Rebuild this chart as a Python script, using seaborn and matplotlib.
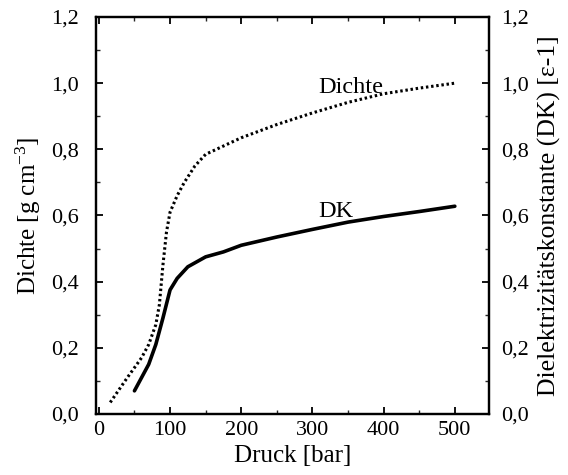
import matplotlib
matplotlib.use("Agg")
import matplotlib.pyplot as plt
import matplotlib.ticker as mticker
import seaborn as sns
import pandas as pd

# Data
druck_dichte = [16, 40, 60, 70, 80, 85, 90, 95, 100, 110, 120, 135, 150, 165, 180, 200, 250, 300, 350, 400, 450, 500]
dichte = [0.035, 0.11, 0.17, 0.21, 0.27, 0.33, 0.45, 0.55, 0.61, 0.66, 0.70, 0.75, 0.785, 0.80, 0.815, 0.835, 0.875, 0.91, 0.942, 0.968, 0.985, 1.0]

druck_dk = [50, 70, 80, 90, 100, 110, 125, 150, 175, 200, 250, 300, 350, 400, 450, 500]
dk = [0.07, 0.15, 0.21, 0.29, 0.375, 0.41, 0.445, 0.475, 0.49, 0.51, 0.535, 0.558, 0.58, 0.597, 0.612, 0.628]

x_ticks = [0, 100, 200, 300, 400, 500]
y_ticks = [0.0, 0.2, 0.4, 0.6, 0.8, 1.0, 1.2]

sns.set_theme(style="ticks")
plt.rcParams['font.family'] = ['Liberation Serif', 'DejaVu Serif']
plt.rcParams['mathtext.fontset'] = 'custom'
plt.rcParams['mathtext.rm'] = 'Liberation Serif'
plt.rcParams['mathtext.it'] = 'Liberation Serif:italic'
plt.rcParams['mathtext.bf'] = 'Liberation Serif:bold'

df_d = pd.DataFrame({"Druck": druck_dichte, "Dichte": dichte})
df_k = pd.DataFrame({"Druck": druck_dk, "DK": dk})

fig = plt.figure(figsize=(5.68, 4.75), dpi=100)
ax = fig.add_axes([96/568, 1-414/475, (489-96)/568, (414-17)/475])
ax2 = ax.twinx()

sns.lineplot(data=df_d, x="Druck", y="Dichte", ax=ax, color="black",
             linewidth=2.2, linestyle=(0, (0.8, 0.9)))
sns.lineplot(data=df_k, x="Druck", y="DK", ax=ax2, color="black",
             linewidth=2.6)

for a in (ax, ax2):
    a.set_xlim(-4, 548)
    a.set_ylim(0, 1.2)
    a.set_yticks(y_ticks)
    a.yaxis.set_minor_locator(mticker.MultipleLocator(0.1))
    a.yaxis.set_major_formatter(mticker.FuncFormatter(lambda v, p: f"{v:.1f}".replace('.', ',')))
    for s in a.spines.values():
        s.set_linewidth(1.6)
        s.set_color("black")

ax.set_xticks(x_ticks)
ax.xaxis.set_minor_locator(mticker.MultipleLocator(50))
ax.tick_params(axis='both', which='major', direction='in', length=5, width=1.3,
               labelsize=16, colors='black', top=True)
ax.tick_params(axis='y', which='major', pad=12)
ax.tick_params(axis='x', which='major', pad=5)
ax.tick_params(axis='both', which='minor', direction='in', length=3, width=1.0, top=True)
ax.tick_params(axis='y', which='both', right=False)
ax2.tick_params(axis='y', which='major', direction='in', length=5, width=1.3,
                labelsize=16, colors='black', pad=9)
ax2.tick_params(axis='y', which='minor', direction='in', length=3, width=1.0)

ax.set_xlabel("Druck [bar]", fontsize=18, color='black', labelpad=4)
ax.set_ylabel(r"Dichte [g cm$^{-3}$]", fontsize=18, color='black', labelpad=6)
ax2.set_ylabel("Dielektrizitätskonstante (DK) [ε-1]", fontsize=18.5, color='black', labelpad=6)

ax.text(354, 0.97, "Dichte", fontsize=17.5, ha='center', va='baseline', color='black')
ax.text(333, 0.595, "DK", fontsize=17.5, ha='center', va='baseline', color='black')

fig.savefig("out.png", dpi=100)
